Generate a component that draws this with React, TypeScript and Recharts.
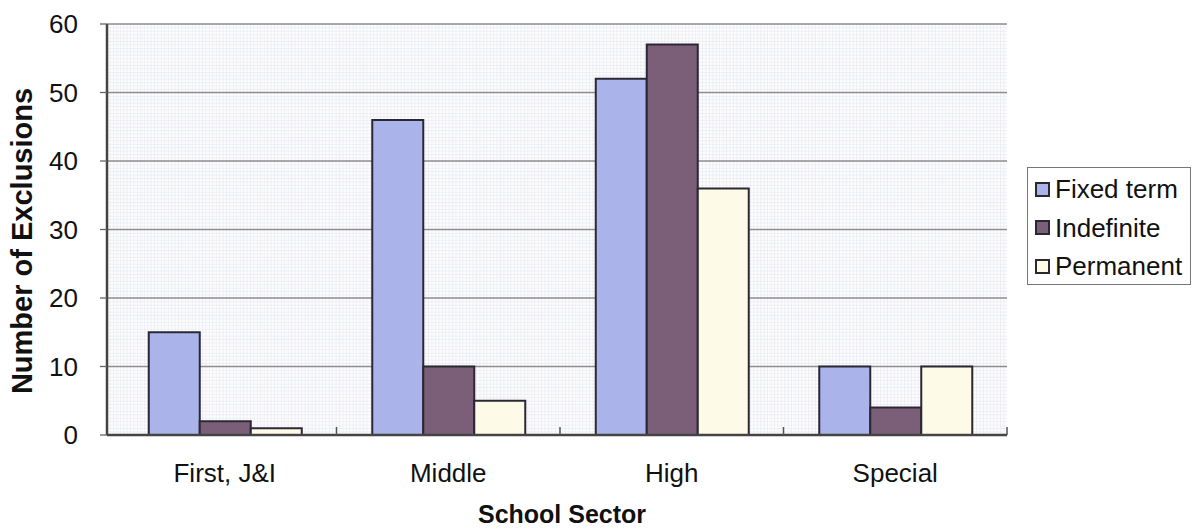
import { BarChart, Bar, XAxis, YAxis, CartesianGrid, Legend } from "recharts";

const sectors = ["First, J&I", "Middle", "High", "Special"];
const fixedTerm = [15, 46, 52, 10];
const indefinite = [2, 10, 57, 4];
const permanent = [1, 5, 36, 10];
const yTicks = [0, 10, 20, 30, 40, 50, 60];

const series = [
  { key: "fixed", name: "Fixed term", color: "#aab4ea" },
  { key: "indefinite", name: "Indefinite", color: "#7b5f78" },
  { key: "permanent", name: "Permanent", color: "#fdfbe8" },
];

const data = sectors.map((sector, i) => ({
  sector,
  fixed: fixedTerm[i],
  indefinite: indefinite[i],
  permanent: permanent[i],
}));

const FONT = '"Liberation Sans", Arial, sans-serif';
const W = 1193;
const H = 529;
const M = { top: 24, right: 186, bottom: 0, left: 0 };
const X_PAD = 6;
const BAND = (W - 107 - M.right - X_PAD) / sectors.length;

function YTick({ y, payload }: any) {
  return (
    <text x={78} y={y} dy="0.36em" textAnchor="end" fontSize={26} fill="#111" fontFamily={FONT}>
      {payload.value}
    </text>
  );
}

function XTick({ x, y, payload }: any) {
  return (
    <g>
      <line x1={x + BAND / 2} x2={x + BAND / 2} y1={y - 8} y2={y} stroke="#555" strokeWidth={1.5} />
      <text x={x} y={y + 47} textAnchor="middle" fontSize={26} fill="#111" fontFamily={FONT}>
        {payload.value}
      </text>
    </g>
  );
}

function LegendBox() {
  return (
    <div
      style={{
        border: "1px solid #777",
        background: "#fff",
        width: 164,
        height: 118,
        boxSizing: "border-box",
        padding: "2px 0 0 7px",
        fontFamily: FONT,
      }}
    >
      {series.map((s) => (
        <div key={s.key} style={{ display: "flex", alignItems: "center", height: 38.5 }}>
          <span
            style={{
              width: 15,
              height: 15,
              boxSizing: "border-box",
              border: "2px solid #2a2830",
              background: s.color,
              marginRight: 5,
            }}
          />
          <span style={{ fontSize: 26, color: "#111", lineHeight: 1 }}>{s.name}</span>
        </div>
      ))}
    </div>
  );
}

export default function App() {
  return (
    <div style={{ position: "absolute", left: 0, top: 0, width: W, height: H, background: "#fff" }}>
      <BarChart
        width={W}
        height={H}
        data={data}
        margin={M}
        barCategoryGap="16%"
        barGap={0}
      >
        <defs>
          <pattern id="minorGrid" width={3.425} height={3.425} patternUnits="userSpaceOnUse">
            <rect width={3.425} height={3.425} fill="#fcfcfd" />
            <path d="M 3.425 0 L 0 0 0 3.425" fill="none" stroke="#d9dde5" strokeWidth={0.7} />
          </pattern>
        </defs>
        <CartesianGrid
          vertical={false}
          stroke="#8e8e8e"
          strokeWidth={1.3}
          fill="url(#minorGrid)"
          fillOpacity={1}
        />
        <XAxis
          dataKey="sector"
          height={94}
          padding={{ left: X_PAD, right: 0 }}
          axisLine={{ stroke: "#444", strokeWidth: 2.5 }}
          tickLine={false}
          tickSize={0}
          tickMargin={0}
          tick={<XTick />}
          interval={0}
          label={{
            content: () => (
              <text
                x={562}
                y={514}
                dy="0.36em"
                textAnchor="middle"
                fontSize={25}
                fontWeight="bold"
                fill="#111"
                fontFamily={FONT}
              >
                School Sector
              </text>
            ),
          }}
        />
        <XAxis
          xAxisId="top"
          orientation="top"
          dataKey="sector"
          height={0}
          tick={false}
          tickLine={false}
          axisLine={{ stroke: "#4a4a4a", strokeWidth: 2.5 }}
        />
        <YAxis
          width={107}
          domain={[0, 60]}
          ticks={yTicks}
          interval={0}
          axisLine={{ stroke: "#444", strokeWidth: 2.5 }}
          tickLine={{ stroke: "#666", strokeWidth: 1.3 }}
          tickSize={7}
          tick={<YTick />}
          label={{
            content: () => (
              <text
                x={22}
                y={241}
                dy="0.36em"
                transform="rotate(-90, 22, 241)"
                textAnchor="middle"
                fontSize={29}
                fontWeight="bold"
                fill="#111"
                fontFamily={FONT}
              >
                Number of Exclusions
              </text>
            ),
          }}
        />
        <YAxis
          yAxisId="right"
          orientation="right"
          width={0}
          domain={[0, 60]}
          tick={false}
          tickLine={false}
          axisLine={{ stroke: "#4a4a4a", strokeWidth: 2.5 }}
        />
        <Legend
          layout="horizontal"
          align="center"
          verticalAlign="middle"
          content={() => <LegendBox />}
          wrapperStyle={{ position: "absolute", left: 1027, top: 167, width: 164, height: 118 }}
        />
        {series.map((s) => (
          <Bar
            key={s.key}
            dataKey={s.key}
            name={s.name}
            fill={s.color}
            stroke="#2b2833"
            strokeWidth={2}
            isAnimationActive={false}
          />
        ))}
      </BarChart>
    </div>
  );
}
